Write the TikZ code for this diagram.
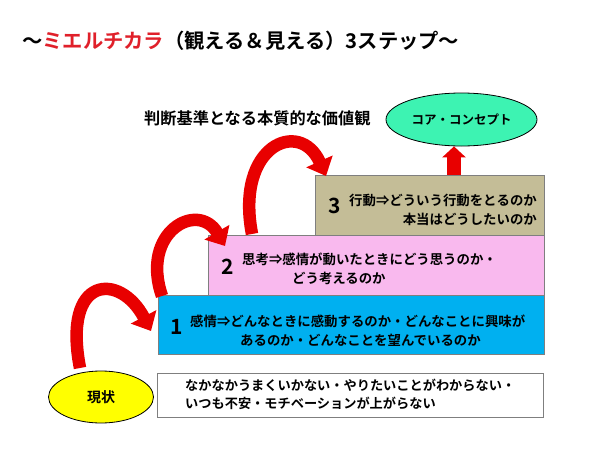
\documentclass[tikz,border=0pt]{standalone}
\usepackage{fontspec}
\setmainfont{Noto Sans CJK JP}[BoldFont={Noto Sans CJK JP Bold}]
\usetikzlibrary{arrows.meta,calc,shapes.geometric}
\definecolor{tanbox}{HTML}{C4BD97}
\definecolor{pinkbox}{HTML}{F9B9EE}
\definecolor{bluebox}{HTML}{00B0F0}
\definecolor{mint}{HTML}{3DF3B2}
\definecolor{yel}{HTML}{FFFF00}
\definecolor{arrred}{HTML}{E80000}
\definecolor{titred}{HTML}{E0202A}
\definecolor{bordergray}{HTML}{7F7F7F}
\tikzset{
  stepbox/.style={draw=bordergray, line width=0.9pt, rectangle},
  ell/.style={draw=black, line width=0.8pt, ellipse},
  txt/.style={inner sep=0pt, anchor=west, align=left, font=\bfseries\fontsize{13.4}{19}\selectfont},
  num/.style={inner sep=0pt, font=\bfseries\fontsize{21}{24}\selectfont},
  curvarrow/.style={draw=arrred, line width=12.5pt, -{Triangle[width=28pt,length=16pt]}},
  uparrow/.style={draw=arrred, line width=14pt, -{Triangle[width=23pt,length=11pt]}},
}
\begin{document}
\begin{tikzpicture}[x=1pt,y=-1pt]
\useasboundingbox (0,0) rectangle (600,450);
\fill[white] (0,0) rectangle (600,450);
% title
\node[inner sep=0pt, anchor=west, font=\bfseries\fontsize{20.3}{24}\selectfont] (title) at (22,41)
  {〜\textcolor{titred}{ミエルチカラ}（観える＆見える）3ステップ〜};
% subtitle
\node[inner sep=0pt, anchor=west, font=\bfseries\fontsize{16.2}{19}\selectfont] (sub) at (144,118) {判断基準となる本質的な価値観};
% core concept ellipse
\node[ell, fill=mint, minimum width=151pt, minimum height=53pt, inner sep=0pt,
  font=\bfseries\fontsize{12.5}{15}\selectfont] (core) at (461.5,119.5) {コア・コンセプト};
% boxes
\path[stepbox, fill=tanbox] (315,175) rectangle (544,235);
\node[inner sep=0pt, minimum width=229pt, minimum height=60pt] (box3) at (429.5,205) {};
\path[stepbox, fill=pinkbox] (208,235) rectangle (544,295);
\node[inner sep=0pt, minimum width=336pt, minimum height=60pt] (box2) at (376,265) {};
\path[stepbox, fill=bluebox] (158,295) rectangle (544,354);
\node[inner sep=0pt, minimum width=386pt, minimum height=59pt] (box1) at (351,324.5) {};
\path[stepbox, fill=white] (157,373) rectangle (543,417);
\node[inner sep=0pt, minimum width=386pt, minimum height=44pt] (nowbox) at (350,395) {};
% genjo ellipse
\node[ell, fill=yel, minimum width=105pt, minimum height=52pt, inner sep=0pt,
  font=\bfseries\fontsize{14}{17}\selectfont] (genjo) at (101,397) {現状};
% texts
\node[num] (n3) at (335,206) {3};
\node[txt, anchor=east, align=right] (t3) at (537,210) {行動⇒どういう行動をとるのか\\本当はどうしたいのか};
\node[num] (n2) at (228,267) {2};
\node[txt] (t2) at (242,269) {思考⇒感情が動いたときにどう思うのか・\\\hspace*{50pt}どう考えるのか};
\node[num] (n1) at (177,327) {1};
\node[txt] (t1) at (190,331) {感情⇒どんなときに感動するのか・どんなことに興味が\\\hspace*{50pt}あるのか・どんなことを望んでいるのか};
\node[txt, font=\bfseries\fontsize{13.2}{18}\selectfont] (t0) at (185,394) {なかなかうまくいかない・やりたいことがわからない・\\いつも不安・モチベーションが上がらない};
% connectors
\coordinate (aT) at (80,368);
\coordinate (aH) at (151,331);
\coordinate (bT) at (162,296);
\coordinate (bH) at (225,246);
\coordinate (cT) at (252,234);
\coordinate (cH) at (326,176);
\coordinate (upx) at (454,146);
\draw[curvarrow] (aT) .. controls (62,275) and (120,272) .. (aH);
\draw[curvarrow] (bT) .. controls (140,232) and (198,200) .. (bH);
\draw[curvarrow] (cT) .. controls (235,145) and (300,118) .. (cH);
\draw[uparrow] (box3.north -| upx) -- (core.south -| upx);
\end{tikzpicture}
\end{document}
